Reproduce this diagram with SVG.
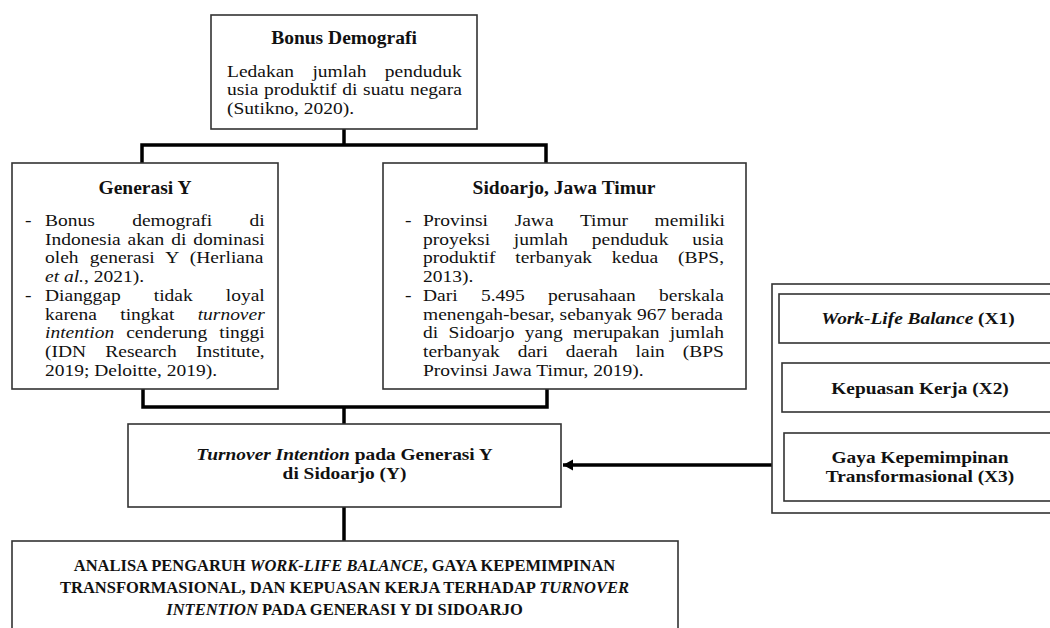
<svg xmlns="http://www.w3.org/2000/svg" width="1050" height="628" viewBox="0 0 1050 628">
<style>
.box{fill:#fff;stroke:#333;stroke-width:1.6}
.conn{fill:none;stroke:#000;stroke-width:3.5}
.t{font-family:"Liberation Serif","Times New Roman",serif;font-size:19.5px;fill:#111}
.s{font-size:16.8px}
.m{font-size:17px}
.c{text-anchor:middle}
.b{font-weight:bold}
.i{font-style:italic}
.a{font-family:"Liberation Serif","Times New Roman",serif;font-size:16.5px;font-weight:bold;fill:#111;text-anchor:middle}
</style>
<defs>
<marker id="arr" markerUnits="userSpaceOnUse" markerWidth="12" markerHeight="12" refX="10" refY="6" orient="auto">
<path d="M0,0.5 L10,6 L0,11.5 z" fill="#000"/>
</marker>
</defs>
<rect width="1050" height="628" fill="#fff"/>

<g id="connectors">
<path class="conn" d="M344,129 V145"/>
<path class="conn" d="M142,163 V145 H546 V163"/>
<path class="conn" d="M143,389 V407 H547 V389"/>
<path class="conn" d="M344,407 V424"/>
<path class="conn" d="M344,507 V541"/>
<path class="conn" d="M772,465 H563" marker-end="url(#arr)"/>
</g>

<g id="bonus-demografi">
<rect class="box" x="211" y="15" width="266" height="114"/>
<text class="t b c" x="344" y="44">Bonus Demografi</text>
<g transform="translate(227,0) scale(1.16,1)">
<text class="t s" x="0" y="77" style="word-spacing:11.6px">Ledakan jumlah penduduk</text>
<text class="t s" x="0" y="95.4" style="word-spacing:0.7px">usia produktif di suatu negara</text>
<text class="t s" x="0" y="113.8">(Sutikno, 2020).</text>
</g>
</g>

<g id="generasi-y">
<rect class="box" x="12" y="163" width="266" height="226"/>
<text class="t b c" x="145" y="194">Generasi Y</text>
<g transform="translate(45,0) scale(1.16,1)">
<text class="t s" x="-17.2" y="226">-</text>
<text class="t s" x="0" y="226" style="word-spacing:28px">Bonus demografi di</text>
<text class="t s" x="0" y="244.8" style="word-spacing:1.7px">Indonesia akan di dominasi</text>
<text class="t s" x="0" y="263.5" style="word-spacing:5.5px">oleh generasi Y (Herliana</text>
<text class="t s" x="0" y="282.3"><tspan class="i">et al.</tspan>, 2021).</text>
<text class="t s" x="-17.2" y="301">-</text>
<text class="t s" x="0" y="301" style="word-spacing:24.3px">Dianggap tidak loyal</text>
<text class="t s" x="0" y="319.8" style="word-spacing:15.9px">karena tingkat <tspan class="i">turnover</tspan></text>
<text class="t s" x="0" y="338.5" style="word-spacing:6.1px"><tspan class="i">intention</tspan> cenderung tinggi</text>
<text class="t s" x="0" y="357.3" style="word-spacing:12.4px">(IDN Research Institute,</text>
<text class="t s" x="0" y="376">2019; Deloitte, 2019).</text>
</g>
</g>

<g id="sidoarjo">
<rect class="box" x="383" y="163" width="363" height="226"/>
<text class="t b c" x="564" y="194">Sidoarjo, Jawa Timur</text>
<g transform="translate(423,0) scale(1.16,1)">
<text class="t s" x="-15.5" y="226">-</text>
<text class="t s" x="0" y="226" style="word-spacing:18.8px">Provinsi Jawa Timur memiliki</text>
<text class="t s" x="0" y="244.8" style="word-spacing:16.3px">proyeksi jumlah penduduk usia</text>
<text class="t s" x="0" y="263.5" style="word-spacing:12.8px">produktif terbanyak kedua (BPS,</text>
<text class="t s" x="0" y="282.3">2013).</text>
<text class="t s" x="-15.5" y="301">-</text>
<text class="t s" x="0" y="301" style="word-spacing:15.9px">Dari 5.495 perusahaan berskala</text>
<text class="t s" x="0" y="319.8">menengah-besar, sebanyak 967 berada</text>
<text class="t s" x="0" y="338.5" style="word-spacing:4.7px">di Sidoarjo yang merupakan jumlah</text>
<text class="t s" x="0" y="357.3" style="word-spacing:11.2px">terbanyak dari daerah lain (BPS</text>
<text class="t s" x="0" y="376">Provinsi Jawa Timur, 2019).</text>
</g>
</g>

<g id="turnover-intention">
<rect class="box" x="128" y="424" width="433" height="83"/>
<g transform="translate(344.5,0) scale(1.14,1)">
<text class="t m b c" x="0" y="460"><tspan class="i">Turnover Intention</tspan> pada Generasi Y</text>
<text class="t m b c" x="0" y="479">di Sidoarjo (Y)</text>
</g>
</g>

<g id="variabel-x">
<rect class="box" x="772" y="284" width="290" height="229"/>
<g id="x1">
<rect class="box" x="779" y="294" width="280" height="49"/>
<g transform="translate(918,0) scale(1.14,1)">
<text class="t m b c" x="0" y="324"><tspan class="i">Work-Life Balance</tspan> (X1)</text>
</g>
</g>
<g id="x2">
<rect class="box" x="782" y="363" width="278" height="49"/>
<g transform="translate(920,0) scale(1.14,1)">
<text class="t m b c" x="0" y="394">Kepuasan Kerja (X2)</text>
</g>
</g>
<g id="x3">
<rect class="box" x="784" y="433" width="276" height="68"/>
<g transform="translate(920,0) scale(1.14,1)">
<text class="t m b c" x="0" y="463">Gaya Kepemimpinan</text>
<text class="t m b c" x="0" y="482.5">Transformasional (X3)</text>
</g>
</g>
</g>

<g id="analisa">
<rect class="box" x="12" y="541" width="666" height="100"/>
<text class="a" x="344.5" y="571">ANALISA PENGARUH <tspan class="i">WORK-LIFE BALANCE</tspan>, GAYA KEPEMIMPINAN</text>
<text class="a" x="344.5" y="593">TRANSFORMASIONAL, DAN KEPUASAN KERJA TERHADAP <tspan class="i">TURNOVER</tspan></text>
<text class="a" x="344.5" y="615"><tspan class="i">INTENTION</tspan> PADA GENERASI Y DI SIDOARJO</text>
</g>
</svg>
